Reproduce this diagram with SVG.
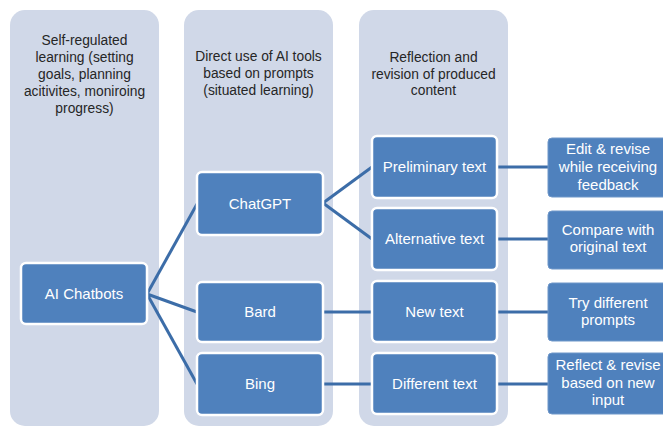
<svg xmlns="http://www.w3.org/2000/svg" width="663" height="426" viewBox="0 0 663 426">
<style>
.col{fill:#D0D8E8}
.hdr{font-family:"Liberation Sans",Arial,sans-serif;font-size:13.8px;fill:#262626;text-anchor:middle}
.node rect{fill:#4F81BD;stroke:#FFFFFF;stroke-width:2.5}
.leaf rect{fill:#4F81BD;stroke:#6F97C9;stroke-width:1}
.lbl{font-family:"Liberation Sans",Arial,sans-serif;font-size:15px;fill:#FFFFFF;text-anchor:middle}
.conn line{stroke:#3C6DA8;stroke-width:3;stroke-linecap:butt}
</style>
<rect width="663" height="426" fill="#FFFFFF"/>
<g id="columns">
<rect class="col" x="10" y="10" width="149" height="416" rx="15"/>
<rect class="col" x="184" y="10" width="149" height="416" rx="15"/>
<rect class="col" x="359" y="10" width="149" height="416" rx="15"/>
<text class="hdr"><tspan x="84.5" y="45">Self-regulated</tspan><tspan x="84.5" y="62">learning (setting</tspan><tspan x="84.5" y="79">goals, planning</tspan><tspan x="84.5" y="96">acitivites, moniroing</tspan><tspan x="84.5" y="113">progress)</tspan></text>
<text class="hdr"><tspan x="258.5" y="61">Direct use of AI tools</tspan><tspan x="258.5" y="78">based on prompts</tspan><tspan x="258.5" y="95">(situated learning)</tspan></text>
<text class="hdr"><tspan x="433.5" y="62">Reflection and</tspan><tspan x="433.5" y="79">revision of produced</tspan><tspan x="433.5" y="95">content</tspan></text>
</g>
<g id="connectors" class="conn">
<line x1="147" y1="294" x2="197" y2="204"/>
<line x1="147" y1="294" x2="197" y2="312"/>
<line x1="147" y1="294" x2="197" y2="384"/>
<line x1="323" y1="203" x2="372" y2="167"/>
<line x1="323" y1="203" x2="372" y2="239"/>
<line x1="323" y1="312" x2="372" y2="312"/>
<line x1="323" y1="384" x2="372" y2="384"/>
<line x1="497" y1="167" x2="548" y2="167"/>
<line x1="497" y1="239" x2="548" y2="239"/>
<line x1="497" y1="312" x2="548" y2="312"/>
<line x1="497" y1="384" x2="548" y2="384"/>
</g>
<g id="ai-chatbots" class="node"><rect x="21" y="263" width="126" height="61" rx="5"/><text class="lbl" x="84" y="298.5">AI Chatbots</text></g>
<g id="chatgpt" class="node"><rect x="197" y="172" width="126" height="63" rx="5"/><text class="lbl" x="260" y="209">ChatGPT</text></g>
<g id="bard" class="node"><rect x="197" y="282" width="126" height="60" rx="5"/><text class="lbl" x="260" y="317">Bard</text></g>
<g id="bing" class="node"><rect x="197" y="353" width="126" height="62" rx="5"/><text class="lbl" x="260" y="389">Bing</text></g>
<g id="preliminary-text" class="node"><rect x="372" y="136" width="125" height="62" rx="5"/><text class="lbl" x="434.5" y="172">Preliminary text</text></g>
<g id="alternative-text" class="node"><rect x="372" y="208" width="125" height="62" rx="5"/><text class="lbl" x="434.5" y="244">Alternative text</text></g>
<g id="new-text" class="node"><rect x="372" y="281" width="125" height="61" rx="5"/><text class="lbl" x="434.5" y="316.5">New text</text></g>
<g id="different-text" class="node"><rect x="372" y="353" width="125" height="61" rx="5"/><text class="lbl" x="434.5" y="388.5">Different text</text></g>
<g id="edit-revise" class="leaf"><rect x="548" y="138" width="122" height="59" rx="4"/><text class="lbl"><tspan x="608" y="154">Edit &amp; revise</tspan><tspan x="608" y="172">while receiving</tspan><tspan x="608" y="190">feedback</tspan></text></g>
<g id="compare" class="leaf"><rect x="548" y="211" width="122" height="58" rx="4"/><text class="lbl"><tspan x="608" y="235">Compare with</tspan><tspan x="608" y="252">original text</tspan></text></g>
<g id="try-prompts" class="leaf"><rect x="548" y="283" width="122" height="58" rx="4"/><text class="lbl"><tspan x="608" y="308">Try different</tspan><tspan x="608" y="325">prompts</tspan></text></g>
<g id="reflect-revise" class="leaf"><rect x="548" y="353" width="122" height="61" rx="4"/><text class="lbl"><tspan x="608" y="370">Reflect &amp; revise</tspan><tspan x="608" y="388">based on new</tspan><tspan x="608" y="405">input</tspan></text></g>
</svg>
